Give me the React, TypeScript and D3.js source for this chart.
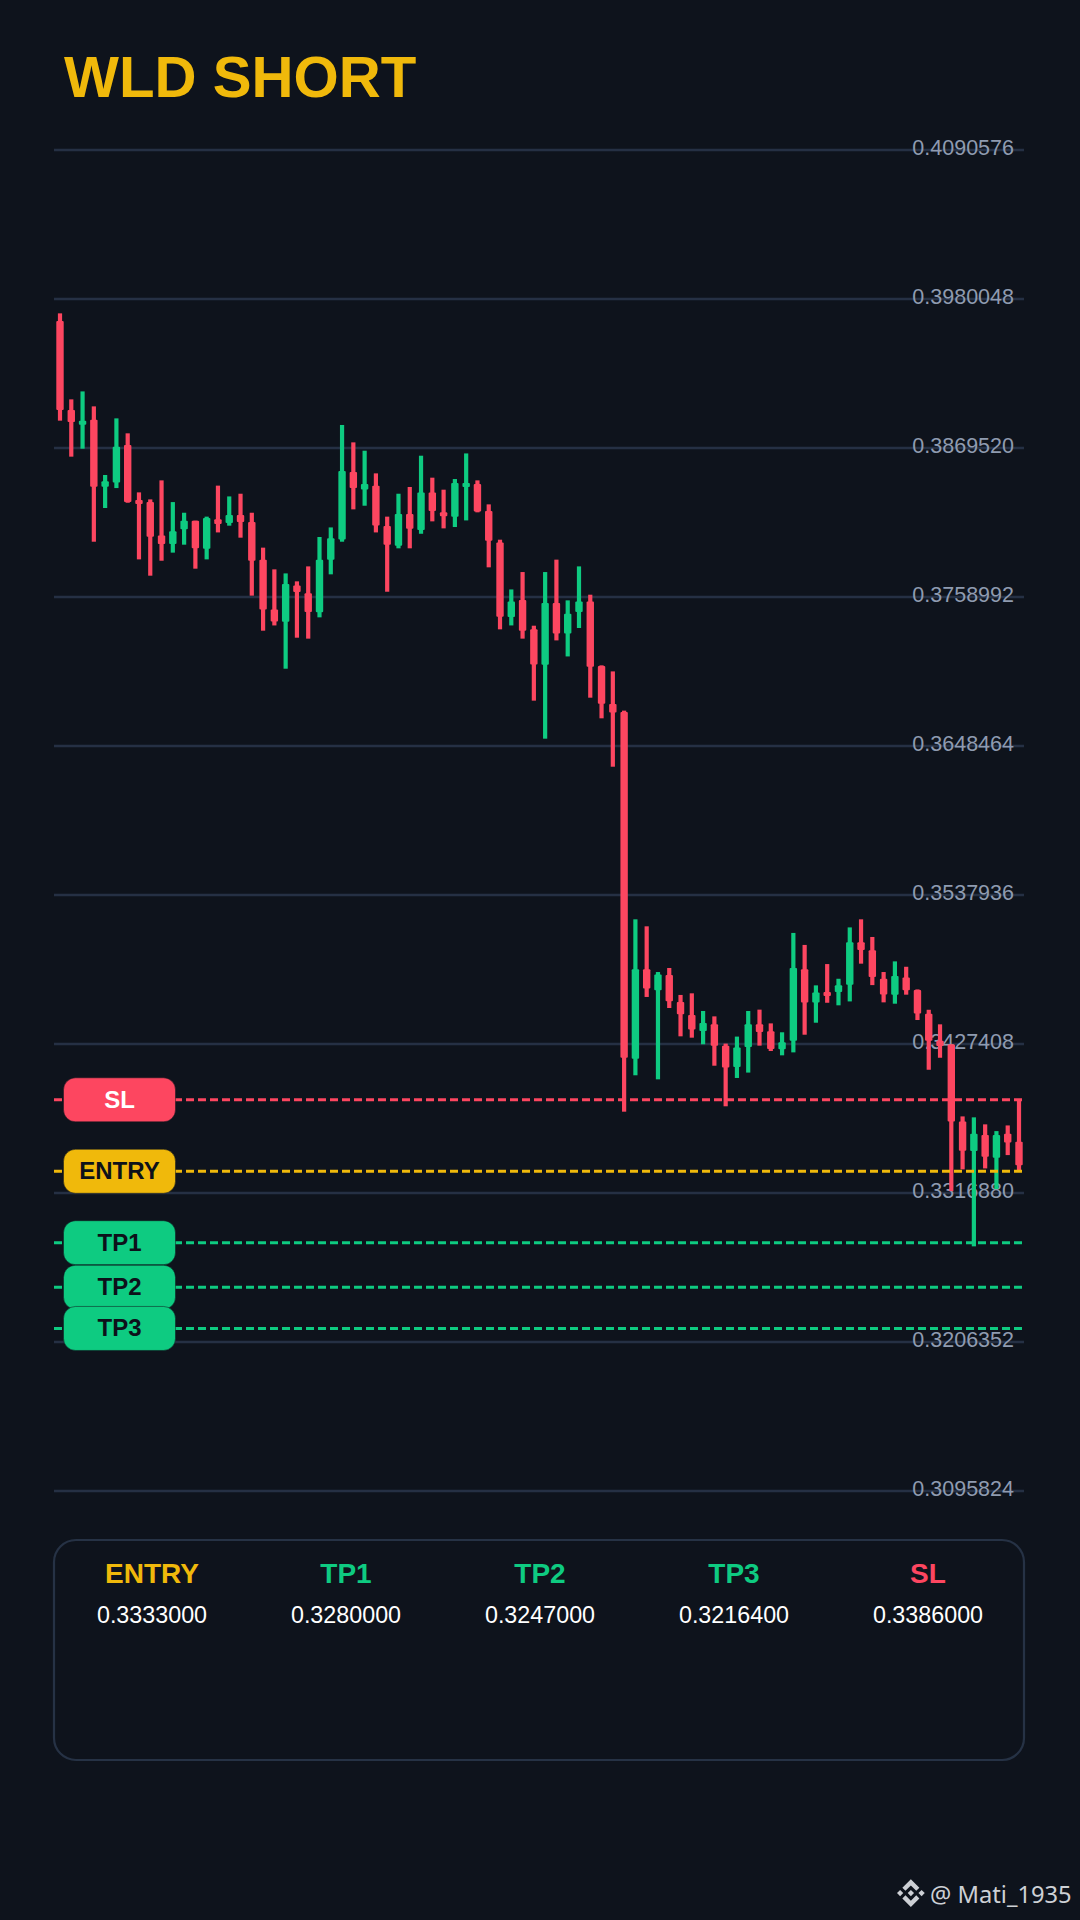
import React, { useEffect, useRef } from 'react'
import * as d3 from 'd3'

const opens = [
	0.39637, 0.38977, 0.38868, 0.38905, 0.38408, 0.3844, 0.38717, 0.38309, 0.38294, 0.38047,
	0.37983, 0.38092, 0.38156, 0.37948, 0.38166, 0.38139, 0.38198, 0.38146, 0.37867, 0.37498,
	0.37407, 0.37676, 0.37617, 0.37476, 0.37867, 0.38017, 0.38517, 0.38388, 0.38416, 0.38116,
	0.3797, 0.38205, 0.38087, 0.38366, 0.38218, 0.38186, 0.38406, 0.38428, 0.38228, 0.37995,
	0.37441, 0.37567, 0.3735, 0.37088, 0.37545, 0.3732, 0.37478, 0.37557, 0.37078, 0.36796,
	0.36737, 0.34165, 0.34828, 0.34672, 0.34786, 0.34586, 0.34489, 0.34371, 0.3442, 0.34262,
	0.34104, 0.34252, 0.3442, 0.34368, 0.34235, 0.34299, 0.34828, 0.34581, 0.3466, 0.3466,
	0.34714, 0.35028, 0.34969, 0.34758, 0.3464, 0.34768, 0.34674, 0.34499, 0.34299, 0.34271,
	0.337, 0.3348, 0.33599, 0.33431, 0.33609, 0.33549,
]
const closes = [
	0.38977, 0.38888, 0.38898, 0.38408, 0.38448, 0.38705, 0.38294, 0.3828, 0.38037, 0.37983,
	0.38077, 0.38156, 0.37951, 0.38176, 0.38131, 0.38198, 0.38146, 0.37859, 0.37498, 0.37409,
	0.37686, 0.37627, 0.37478, 0.37867, 0.38025, 0.38524, 0.38398, 0.38428, 0.38121, 0.37978,
	0.38205, 0.38097, 0.38366, 0.38228, 0.38188, 0.38435, 0.38435, 0.38225, 0.38008, 0.37444,
	0.37557, 0.3734, 0.3709, 0.37545, 0.3732, 0.37466, 0.37557, 0.37073, 0.36798, 0.36734,
	0.34173, 0.34828, 0.34685, 0.34789, 0.34591, 0.34494, 0.34381, 0.3443, 0.34262, 0.34099,
	0.34249, 0.3442, 0.34363, 0.34237, 0.34287, 0.34838, 0.34581, 0.34657, 0.3463, 0.34709,
	0.35028, 0.34971, 0.34771, 0.34642, 0.34778, 0.34672, 0.34501, 0.34299, 0.34259, 0.337,
	0.33483, 0.33609, 0.33438, 0.33599, 0.33544, 0.33374,
]
const highs = [
	0.39694, 0.39056, 0.39115, 0.39004, 0.38495, 0.38915, 0.38804, 0.38366, 0.38314, 0.38455,
	0.38294, 0.38215, 0.38156, 0.38186, 0.38416, 0.38336, 0.38356, 0.38215, 0.37956, 0.37795,
	0.37765, 0.37706, 0.37817, 0.38035, 0.38106, 0.38866, 0.38737, 0.38675, 0.38507, 0.38186,
	0.38356, 0.38406, 0.38638, 0.38475, 0.38386, 0.38465, 0.38655, 0.38455, 0.38277, 0.38015,
	0.37646, 0.37775, 0.37377, 0.37775, 0.37867, 0.37565, 0.37817, 0.37607, 0.37083, 0.37038,
	0.36747, 0.35199, 0.35147, 0.34808, 0.34838, 0.34638, 0.3465, 0.34519, 0.34479, 0.34277,
	0.34329, 0.34519, 0.34529, 0.34427, 0.34361, 0.35098, 0.35009, 0.34709, 0.34867, 0.34758,
	0.35139, 0.35199, 0.35068, 0.34808, 0.34887, 0.34847, 0.34679, 0.34528, 0.3442, 0.34271,
	0.33737, 0.3373, 0.33678, 0.33628, 0.3367, 0.33863,
]
const lows = [
	0.38898, 0.38631, 0.3869, 0.38, 0.3825, 0.38398, 0.38289, 0.37869, 0.37748, 0.37859,
	0.37919, 0.37978, 0.378, 0.37869, 0.38069, 0.38119, 0.3803, 0.376, 0.3734, 0.37379,
	0.37058, 0.37288, 0.37281, 0.37439, 0.37758, 0.38, 0.3824, 0.38267, 0.38069, 0.37629,
	0.37951, 0.37951, 0.38059, 0.38151, 0.38099, 0.38109, 0.38158, 0.38218, 0.3781, 0.3735,
	0.37379, 0.37281, 0.36821, 0.36539, 0.37268, 0.37149, 0.3736, 0.36843, 0.3669, 0.36331,
	0.33772, 0.34042, 0.34623, 0.34012, 0.34541, 0.34331, 0.34321, 0.34272, 0.34113, 0.33812,
	0.34022, 0.34062, 0.34262, 0.34222, 0.3419, 0.34212, 0.34343, 0.34432, 0.3458, 0.34561,
	0.3459, 0.3487, 0.34711, 0.34583, 0.34573, 0.3464, 0.34452, 0.34083, 0.34172, 0.33183,
	0.33344, 0.32773, 0.33351, 0.33198, 0.3345, 0.33334,
]

const tickValues = [0.4090576, 0.3980048, 0.386952, 0.3758992, 0.3648464, 0.3537936, 0.3427408, 0.331688, 0.3206352, 0.3095824]
const levelNames = ['SL', 'ENTRY', 'TP1', 'TP2', 'TP3']
const levelPrices = [0.3386, 0.3333, 0.328, 0.3247, 0.32164]
const summaryNames = ['ENTRY', 'TP1', 'TP2', 'TP3', 'SL']
const summaryPrices = [0.3333, 0.328, 0.3247, 0.32164, 0.3386]

const BG = '#0e131c'
const GRID = '#253044'
const GOLD = '#f0b90b'
const GREEN = '#0ecb81'
const RED = '#fd4660'
const SANS = '"Liberation Sans", Arial, sans-serif'

const levelColor = (name: string) => (name === 'SL' ? RED : name === 'ENTRY' ? GOLD : GREEN)

export default function App() {
	const ref = useRef<SVGSVGElement>(null)

	useEffect(() => {
		document.body.style.margin = '0'
		document.body.style.background = BG

		const svg = d3.select(ref.current)
		svg.selectAll('*').remove()

		const x = d3.scaleLinear().domain([0, opens.length - 1]).range([60, 1019])
		const y = d3.scaleLinear().domain([0.3095824, 0.4090576]).range([1491, 150])
		const left = 54
		const right = 1024

		svg.append('rect').attr('width', 1080).attr('height', 1920).attr('fill', BG)

		// Title
		svg.append('text')
			.attr('x', 64)
			.attr('y', 97)
			.attr('fill', GOLD)
			.style('font', `bold 58.2px ${SANS}`)
			.text('WLD SHORT')

		// Grid and price labels
		const ticks = svg.append('g').selectAll('g').data(tickValues).enter().append('g')
		ticks.append('line')
			.attr('x1', left)
			.attr('x2', right)
			.attr('y1', (d) => y(d))
			.attr('y2', (d) => y(d))
			.attr('stroke', GRID)
			.attr('stroke-width', 2.4)
		ticks.append('text')
			.attr('x', 1014)
			.attr('y', (d) => y(d) - 0.5)
			.attr('text-anchor', 'end')
			.attr('dominant-baseline', 'middle')
			.attr('fill', '#8f9bb0')
			.style('font', `21.5px ${SANS}`)
			.text((d) => d.toFixed(7))

		// Candles
		const candles = svg.append('g').selectAll('g').data(opens).enter().append('g')
			.attr('fill', (d, i) => (closes[i] >= d ? GREEN : RED))
		candles.append('rect')
			.attr('x', (_, i) => x(i) - 2.1)
			.attr('width', 4.2)
			.attr('y', (_, i) => y(highs[i]))
			.attr('height', (_, i) => y(lows[i]) - y(highs[i]))
		candles.append('rect')
			.attr('x', (_, i) => x(i) - 3.7)
			.attr('width', 7.4)
			.attr('rx', 1)
			.attr('y', (d, i) => y(Math.max(d, closes[i])))
			.attr('height', (d, i) => Math.abs(y(d) - y(closes[i])))

		// Trade levels
		const levels = svg.append('g').selectAll('g').data(levelNames).enter().append('g')
		levels.append('line')
			.attr('x1', left)
			.attr('x2', right)
			.attr('y1', (_, i) => y(levelPrices[i]))
			.attr('y2', (_, i) => y(levelPrices[i]))
			.attr('stroke', (d) => levelColor(d))
			.attr('stroke-width', 3)
			.attr('stroke-dasharray', '8 4')
		levels.append('rect')
			.attr('x', 63.5)
			.attr('width', 112)
			.attr('y', (_, i) => y(levelPrices[i]) - 22)
			.attr('height', 44)
			.attr('rx', 12)
			.attr('fill', (d) => levelColor(d))
			.attr('stroke', BG)
			.attr('stroke-opacity', 0.5)
			.attr('stroke-width', 1)
		levels.append('text')
			.attr('x', 119.5)
			.attr('y', (_, i) => y(levelPrices[i]) - 0.5)
			.attr('text-anchor', 'middle')
			.attr('dominant-baseline', 'central')
			.attr('fill', (d) => (d === 'SL' ? '#ffffff' : '#0d111a'))
			.style('font', `bold 24px ${SANS}`)
			.text((d) => d)

		// Summary panel
		svg.append('rect')
			.attr('x', 54)
			.attr('y', 1540)
			.attr('width', 970)
			.attr('height', 220)
			.attr('rx', 22)
			.attr('fill', 'none')
			.attr('stroke', '#263245')
			.attr('stroke-width', 2.2)
		const col = d3.scalePoint().domain(summaryNames).range([152, 928])
		const cells = svg.append('g').selectAll('g').data(summaryNames).enter().append('g')
		cells.append('text')
			.attr('x', (d) => col(d) as number)
			.attr('y', 1582.5)
			.attr('text-anchor', 'middle')
			.attr('fill', (d) => levelColor(d))
			.style('font', `bold 28px ${SANS}`)
			.text((d) => d)
		cells.append('text')
			.attr('x', (d) => col(d) as number)
			.attr('y', 1623)
			.attr('text-anchor', 'middle')
			.attr('fill', '#ffffff')
			.style('font', `23.3px ${SANS}`)
			.text((_, i) => summaryPrices[i].toFixed(7))

		// Watermark
		const mark = svg.append('g')
			.attr('transform', 'translate(897 1879.2) scale(0.219)')
			.attr('fill', '#cdd0d5')
		mark.append('path').attr('d', 'M38.73 53.2 63.3 28.63l24.58 24.58 14.3-14.29L63.3 0 24.43 38.91z')
		mark.append('path').attr('d', 'M0 63.3 14.3 49l14.29 14.3-14.29 14.29z')
		mark.append('path').attr('d', 'M38.73 73.41 63.3 97.98l24.58-24.57 14.3 14.29L63.3 126.61 24.43 87.7z')
		mark.append('path').attr('d', 'M98.02 63.31l14.3-14.3 14.29 14.3-14.3 14.3z')
		mark.append('path').attr('d', 'M77.83 63.3 63.3 48.77 48.79 63.27 63.3 77.8z')
		svg.append('text')
			.attr('x', 930)
			.attr('y', 1903)
			.attr('fill', '#cdd0d5')
			.style('font', '23.7px "Noto Sans", sans-serif')
			.text('@ Mati_1935')
	}, [])

	return <svg ref={ref} width={1080} height={1920} style={{ display: 'block', position: 'absolute', top: 0, left: 0 }} />
}
